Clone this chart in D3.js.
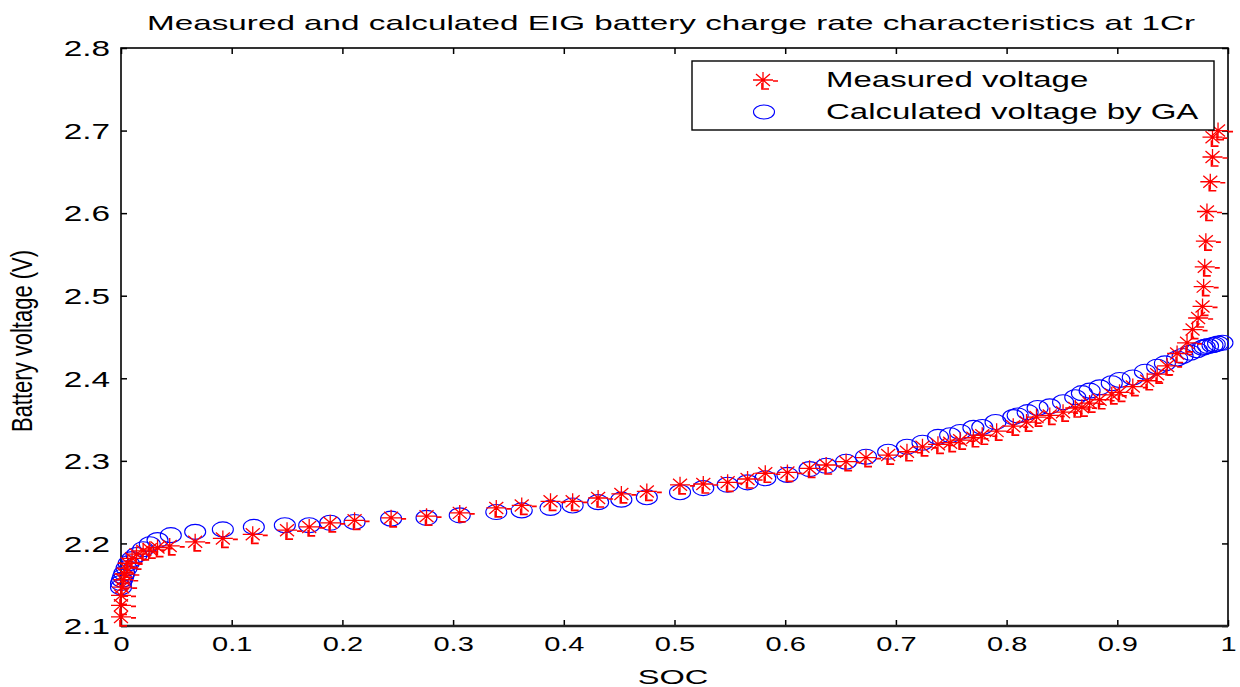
<!DOCTYPE html>
<html>
<head>
<meta charset="utf-8">
<script src="https://cdn.jsdelivr.net/npm/d3@7"></script>
<style>
  html, body { margin: 0; padding: 0; background: #fff; }
  svg { display: block; font-family: "Liberation Sans", Arial, Helvetica, sans-serif; }
</style>
</head>
<body>
<svg id="chart" width="1240" height="687"></svg>
<script>
// measured points (red asterisks)
const socMeasured = [
  0, 0, 0, 0.001, 0.002, 0.003, 0.005, 0.006, 0.010, 0.014, 0.020, 0.026, 0.033, 0.044, 0.067, 0.092, 0.119, 0.150,
  0.170, 0.189, 0.211, 0.244, 0.276, 0.306, 0.339, 0.362,
  0.388, 0.408, 0.431, 0.452, 0.475, 0.505, 0.526, 0.548, 0.566, 0.582,
  0.602, 0.622, 0.637, 0.655, 0.673, 0.693,
  0.710, 0.724, 0.738, 0.749, 0.758, 0.770, 0.778, 0.791, 0.806, 0.818, 0.827, 0.839, 0.851, 0.862, 0.868, 0.875,
  0.884, 0.895, 0.902, 0.914, 0.927, 0.936, 0.945, 0.954, 0.963, 0.968, 0.973, 0.977, 0.978, 0.979, 0.980, 0.981,
  0.984, 0.986, 0.986, 0.991
];
const voltMeasured = [
  2.111, 2.125, 2.137, 2.147, 2.156, 2.163, 2.170, 2.176, 2.182, 2.187, 2.191, 2.193, 2.195, 2.197, 2.202, 2.206, 2.211, 2.216,
  2.220, 2.225, 2.228, 2.231, 2.233, 2.237, 2.243, 2.246,
  2.251, 2.251, 2.255, 2.260, 2.263, 2.271, 2.272, 2.274, 2.278, 2.285,
  2.286, 2.291, 2.295, 2.299, 2.304, 2.307,
  2.311, 2.317, 2.320, 2.322, 2.325, 2.328, 2.331, 2.336, 2.342, 2.347, 2.353, 2.355, 2.359, 2.364, 2.365, 2.370,
  2.374, 2.380, 2.383, 2.390, 2.397, 2.405, 2.415, 2.430, 2.443, 2.459, 2.473, 2.487, 2.511, 2.535, 2.566, 2.602,
  2.638, 2.668, 2.692, 2.700
];

// calculated points (blue circles)
const socCalculated = [
  0, 0, 0.001, 0.002, 0.003, 0.005, 0.007, 0.010, 0.014, 0.020, 0.026, 0.033, 0.045, 0.067, 0.092, 0.120, 0.148,
  0.170, 0.189, 0.211, 0.244, 0.276, 0.306, 0.339, 0.362,
  0.388, 0.408, 0.431, 0.452, 0.475, 0.505, 0.526, 0.548, 0.566, 0.582,
  0.602, 0.622, 0.637, 0.655, 0.673, 0.693,
  0.710, 0.724, 0.738, 0.749, 0.758, 0.770, 0.778, 0.790, 0.806, 0.810, 0.819, 0.828, 0.839, 0.851, 0.862, 0.868,
  0.875, 0.884, 0.895, 0.902, 0.914, 0.925, 0.936, 0.943, 0.954, 0.959, 0.966, 0.972, 0.977, 0.979, 0.982, 0.986,
  0.988, 0.991, 0.995
];
const voltCalculated = [
  2.147, 2.152, 2.156, 2.160, 2.164, 2.170, 2.176, 2.181, 2.186, 2.193, 2.199, 2.204, 2.210, 2.214, 2.217, 2.220, 2.222,
  2.222, 2.225, 2.226, 2.230, 2.231, 2.234, 2.238, 2.240,
  2.243, 2.246, 2.250, 2.253, 2.256, 2.262, 2.267, 2.271, 2.274, 2.279,
  2.283, 2.290, 2.294, 2.299, 2.305, 2.311,
  2.317, 2.322, 2.329, 2.331, 2.335, 2.340, 2.341, 2.347, 2.353, 2.355, 2.359, 2.364, 2.366, 2.371, 2.377, 2.382,
  2.385, 2.389, 2.394, 2.398, 2.401, 2.408, 2.414, 2.418, 2.424, 2.427, 2.431, 2.434, 2.437, 2.438, 2.439, 2.440,
  2.441, 2.442, 2.443
];

const xTicks = [0, 0.1, 0.2, 0.3, 0.4, 0.5, 0.6, 0.7, 0.8, 0.9, 1];
const xTickLabels = ['0', '0.1', '0.2', '0.3', '0.4', '0.5', '0.6', '0.7', '0.8', '0.9', '1'];
const yTicks = [2.1, 2.2, 2.3, 2.4, 2.5, 2.6, 2.7, 2.8];
const yTickLabels = ['2.1', '2.2', '2.3', '2.4', '2.5', '2.6', '2.7', '2.8'];
const seriesNames = ['Measured voltage', 'Calculated voltage by GA'];

const titleText = 'Measured and calculated EIG battery charge rate characteristics at 1Cr';

const box = { left: 121, right: 1228, top: 48, bottom: 626 };
const RED = '#ff0000', BLUE = '#0000ff';

const svg = d3.select('#chart');
const x = d3.scaleLinear().domain([0, 1]).range([box.left, box.right]);
const y = d3.scaleLinear().domain([2.1, 2.8]).range([box.bottom, box.top]);

// stretch text horizontally (the source picture is wider than it was drawn)
function stretch(sel, k) {
  sel.each(function () {
    const len = this.getComputedTextLength();
    d3.select(this).attr('textLength', len * k).attr('lengthAdjust', 'spacingAndGlyphs');
  });
}

// axes with inward ticks
const xAxis = svg.append('g')
  .attr('transform', `translate(0,${box.bottom})`)
  .call(d3.axisBottom(x).tickValues(xTicks).tickFormat((d, i) => xTickLabels[i])
    .tickSizeInner(-6).tickSizeOuter(0).tickPadding(11));
const yAxis = svg.append('g')
  .attr('transform', `translate(${box.left},0)`)
  .call(d3.axisLeft(y).tickValues(yTicks).tickFormat((d, i) => yTickLabels[i])
    .tickSizeInner(-6).tickSizeOuter(0).tickPadding(11));
svg.append('g')
  .attr('transform', `translate(0,${box.top})`)
  .call(d3.axisTop(x).tickValues(xTicks).tickFormat('').tickSizeInner(-6).tickSizeOuter(0));
svg.append('g')
  .attr('transform', `translate(${box.right},0)`)
  .call(d3.axisRight(y).tickValues(yTicks).tickFormat('').tickSizeInner(-6).tickSizeOuter(0));

svg.selectAll('.domain').remove();
svg.selectAll('.tick line').attr('stroke', '#000').attr('stroke-width', 1.5);

xAxis.selectAll('text').attr('font-size', 20).attr('fill', '#000').attr('font-family', null);
yAxis.selectAll('text').attr('font-size', 21.5).attr('fill', '#000').attr('font-family', null).attr('dy', '0.36em');
stretch(xAxis.selectAll('text'), 1.45);
stretch(yAxis.selectAll('text'), 1.55);

// frame
svg.append('rect')
  .attr('x', box.left).attr('y', box.top)
  .attr('width', box.right - box.left).attr('height', box.bottom - box.top)
  .attr('fill', 'none').attr('stroke', '#000').attr('stroke-width', 1.6);
svg.append('line')
  .attr('x1', box.left).attr('x2', box.right).attr('y1', box.bottom).attr('y2', box.bottom)
  .attr('stroke', '#222').attr('stroke-width', 2.4);

// markers
function drawStar(g, cx, cy) {
  const w = 10, h = 8;
  g.append('path')
    .attr('d', `M${cx - w},${cy}H${cx + w}M${cx},${cy - h}V${cy + h}` +
      `M${cx - 7},${cy - 6}L${cx + 7},${cy + 6}M${cx - 7},${cy + 6}L${cx + 7},${cy - 6}`)
    .attr('stroke', RED).attr('stroke-width', 1.3).attr('fill', 'none');
  g.append('path')
    .attr('d', `M${cx + 10},${cy + 1}H${cx + 15}M${cx - 1},${cy + 3}V${cy + 9}H${cx + 6}`)
    .attr('stroke', RED).attr('stroke-width', 1.7).attr('fill', 'none');
}

const circles = svg.append('g');
socCalculated.forEach((s, i) => {
  circles.append('ellipse')
    .attr('cx', x(s)).attr('cy', y(voltCalculated[i]))
    .attr('rx', 10.5).attr('ry', 7.5)
    .attr('fill', 'none').attr('stroke', BLUE).attr('stroke-width', 1.1);
});

const stars = svg.append('g');
socMeasured.forEach((s, i) => drawStar(stars, x(s), y(voltMeasured[i])));

// legend
const lg = svg.append('g');
lg.append('rect')
  .attr('x', 692).attr('y', 61).attr('width', 522).attr('height', 69)
  .attr('fill', '#fff').attr('stroke', '#000').attr('stroke-width', 1.4);
drawStar(lg, 763, 80);
lg.append('ellipse').attr('cx', 764).attr('cy', 112).attr('rx', 10.5).attr('ry', 7)
  .attr('fill', 'none').attr('stroke', BLUE).attr('stroke-width', 1.1);
const legendText = lg.selectAll('text.leg').data(seriesNames).join('text')
  .attr('class', 'leg')
  .attr('x', 826).attr('y', (d, i) => 87 + i * 32)
  .attr('font-size', 22).attr('fill', '#000')
  .text(d => d);
stretch(legendText, 1.5);

// title and axis labels
const title = svg.append('text')
  .attr('x', 671).attr('y', 30).attr('text-anchor', 'middle')
  .attr('font-size', 21).attr('fill', '#000')
  .text(titleText);
title.attr('textLength', 1048).attr('lengthAdjust', 'spacingAndGlyphs');

const xl = svg.append('text')
  .attr('x', 673).attr('y', 684).attr('text-anchor', 'middle')
  .attr('font-size', 21).attr('fill', '#000')
  .text('SOC');
stretch(xl, 1.55);

svg.append('g')
  .attr('transform', 'translate(32,341) scale(1.3,1) rotate(-90)')
  .append('text')
  .attr('text-anchor', 'middle')
  .attr('font-size', 22).attr('fill', '#000')
  .text('Battery voltage (V)');
</script>
</body>
</html>
